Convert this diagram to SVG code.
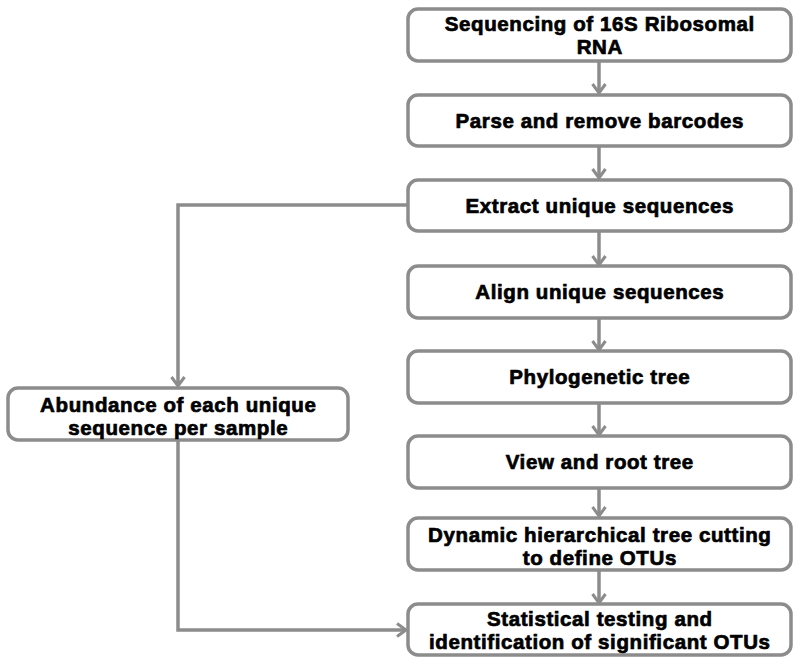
<svg xmlns="http://www.w3.org/2000/svg" width="800" height="665" viewBox="0 0 800 665">
<style>
.box{fill:#fff;stroke:#8c8c8c;stroke-width:3.5}
.t{font-family:"Liberation Sans",Arial,sans-serif;font-weight:bold;font-size:20.5px;letter-spacing:0.6px;fill:#000;stroke:#000;stroke-width:0.7;text-anchor:middle}
.c{fill:none;stroke:#8c8c8c;stroke-width:3.5}
</style>
<defs>
<marker id="ah" markerWidth="16" markerHeight="16" refX="12" refY="8" orient="auto" markerUnits="userSpaceOnUse">
<path d="M3,1.5 L12,8 L3,14.5" fill="none" stroke="#8c8c8c" stroke-width="3"/>
</marker>
</defs>
<g id="connectors">
<line class="c" x1="599" y1="61" x2="599" y2="93" marker-end="url(#ah)"/>
<line class="c" x1="599" y1="146" x2="599" y2="178" marker-end="url(#ah)"/>
<line class="c" x1="599" y1="231" x2="599" y2="265" marker-end="url(#ah)"/>
<line class="c" x1="599" y1="318" x2="599" y2="350" marker-end="url(#ah)"/>
<line class="c" x1="599" y1="403" x2="599" y2="435" marker-end="url(#ah)"/>
<line class="c" x1="599" y1="488" x2="599" y2="516" marker-end="url(#ah)"/>
<line class="c" x1="599" y1="570" x2="599" y2="603" marker-end="url(#ah)"/>
<polyline class="c" points="408,205 178,205 178,386" marker-end="url(#ah)"/>
<polyline class="c" points="178,440 178,630 406,630" marker-end="url(#ah)"/>
</g>
<g id="n1"><rect class="box" x="408" y="9" width="383" height="52" rx="10"/><text class="t" x="599.8" y="31">Sequencing of 16S Ribosomal</text><text class="t" x="599.8" y="54">RNA</text></g>
<g id="n2"><rect class="box" x="408" y="95" width="383" height="51" rx="10"/><text class="t" x="599.8" y="128">Parse and remove barcodes</text></g>
<g id="n3"><rect class="box" x="408" y="180" width="383" height="51" rx="10"/><text class="t" x="599.8" y="213">Extract unique sequences</text></g>
<g id="n4"><rect class="box" x="408" y="266" width="383" height="52" rx="10"/><text class="t" x="599.8" y="299">Align unique sequences</text></g>
<g id="n5"><rect class="box" x="408" y="351" width="383" height="52" rx="10"/><text class="t" x="599.8" y="384">Phylogenetic tree</text></g>
<g id="n6"><rect class="box" x="408" y="436" width="383" height="52" rx="10"/><text class="t" x="599.8" y="469">View and root tree</text></g>
<g id="n7"><rect class="box" x="408" y="518" width="383" height="52" rx="10"/><text class="t" x="599.8" y="542">Dynamic hierarchical tree cutting</text><text class="t" x="599.8" y="565">to define OTUs</text></g>
<g id="n8"><rect class="box" x="408" y="604" width="383" height="51" rx="10"/><text class="t" x="599.8" y="626">Statistical testing and</text><text class="t" x="599.8" y="649">identification of significant OTUs</text></g>
<g id="n9"><rect class="box" x="8" y="388" width="340" height="52" rx="10"/><text class="t" x="178.3" y="412">Abundance of each unique</text><text class="t" x="178.3" y="435">sequence per sample</text></g>
</svg>
